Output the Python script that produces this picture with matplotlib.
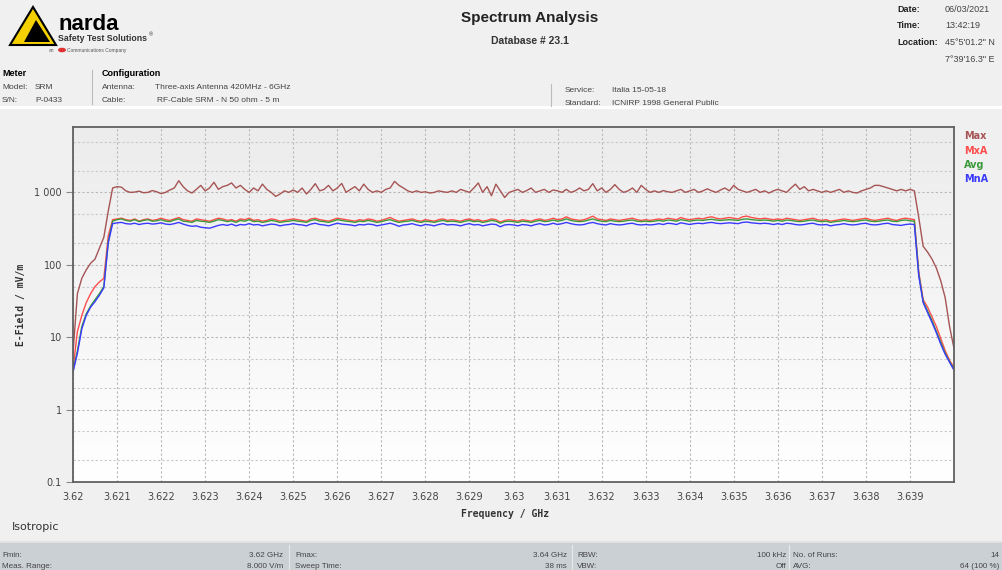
import numpy as np
import matplotlib
matplotlib.use("Agg")
import matplotlib.pyplot as plt
from matplotlib.patches import Polygon, Rectangle, Circle
from matplotlib.ticker import FixedLocator, FixedFormatter, NullFormatter

# sweep 3.62 - 3.64 GHz, 201 points
freq = np.linspace(3.62, 3.64, 201)

max_vals = [
    6, 40, 65, 85, 105, 120, 170, 240, 550, 1150,
    1200, 1180, 1050, 1000, 1010, 1040, 990, 1000, 1060, 1020,
    960, 1000, 1080, 1150, 1450, 1200, 1050, 980, 1100, 1250,
    1050, 1150, 1380, 1100, 1200, 1250, 1350, 1150, 1250, 1100,
    1000, 1150, 1050, 1300, 1100, 1000, 880, 950, 1050, 1000,
    1080, 1000, 1150, 950, 1100, 1320, 1050, 1100, 1250, 1050,
    1150, 1330, 1000, 1100, 1200, 1050, 1300, 1100, 1000, 1050,
    1000, 1100, 1150, 1420, 1250, 1150, 1050, 1000, 1050, 1000,
    1020, 980, 1000, 1050, 1020, 1000, 1050, 1000, 1100, 1050,
    1000, 1150, 1350, 1000, 1200, 900, 1300, 1050, 850, 1000,
    1050, 1100, 1000, 1060, 1150, 1000, 1050, 1100, 1000, 1080,
    1050, 1000, 1100, 1000, 1050, 1150, 1050, 1100, 1320, 1050,
    1150, 1000, 1100, 1280, 1100, 1000, 1050, 1150, 1000, 1250,
    1100, 1000, 1050, 1000, 1060, 1020, 1000, 1050, 1100, 1000,
    1050, 1100, 1000, 1050, 1120, 1050, 1000, 1080, 1150, 1050,
    1250, 1100, 1050, 1000, 1050, 1100, 1000, 1050, 980, 1050,
    1100, 1050, 1000, 1150, 1300, 1100, 1200, 1050, 1100, 1050,
    1000, 1050, 1000, 1050, 1100, 1000, 1050, 1000, 980, 1050,
    1100, 1150, 1250, 1250, 1200, 1150, 1100, 1050, 1100, 1050,
    1100, 1050, 450, 180, 150, 120, 90, 60, 35, 14,
    7,
]

mxa_vals = [
    3.6, 12, 20, 30, 40, 50, 58, 65, 250, 420,
    430, 440, 420, 410, 430, 400, 420, 430, 410, 420,
    440, 420, 410, 430, 450, 420, 410, 400, 430, 420,
    410, 400, 420, 440, 430, 410, 420, 400, 430, 420,
    440, 410, 420, 400, 410, 430, 420, 400, 410, 420,
    430, 420, 410, 400, 430, 440, 420, 410, 400, 420,
    440, 430, 420, 410, 400, 420, 410, 430, 420, 400,
    410, 430, 450, 420, 400, 410, 420, 430, 410, 400,
    420, 410, 400, 420, 430, 410, 420, 410, 400, 420,
    430, 410, 420, 400, 410, 430, 420, 390, 410, 420,
    410, 400, 420, 410, 400, 420, 430, 410, 420, 440,
    420, 430, 460, 430, 420, 410, 420, 440, 470, 430,
    420, 410, 430, 420, 410, 420, 430, 440, 420, 410,
    420, 410, 420, 430, 420, 440, 430, 420, 450, 430,
    420, 430, 440, 430, 450, 460, 440, 430, 440, 450,
    440, 430, 460, 470, 450, 440, 430, 440, 430, 420,
    430, 420, 440, 430, 420, 410, 420, 430, 440, 420,
    410, 420, 400, 410, 420, 430, 420, 410, 420, 430,
    440, 420, 410, 420, 430, 440, 420, 410, 430, 440,
    430, 420, 80, 33, 26, 19, 14, 9.5, 6.5, 4.8,
    3.8,
]

avg_vals = [
    3.4, 6.5, 14, 21, 27, 33, 40, 50, 210, 400,
    420, 430, 410, 400, 420, 395, 410, 420, 400, 405,
    420, 400, 395, 415, 430, 400, 395, 385, 410, 400,
    395, 385, 400, 420, 410, 395, 405, 385, 410, 400,
    420, 395, 400, 385, 395, 410, 400, 385, 395, 400,
    410, 400, 395, 385, 410, 420, 400, 395, 385, 400,
    420, 410, 400, 395, 385, 400, 395, 410, 400, 385,
    395, 410, 420, 400, 385, 395, 400, 410, 395, 385,
    400, 395, 385, 400, 410, 395, 400, 395, 385, 400,
    410, 395, 400, 385, 395, 410, 400, 375, 395, 400,
    395, 385, 400, 395, 385, 400, 410, 395, 400, 415,
    400, 410, 430, 410, 400, 395, 400, 415, 430, 410,
    400, 395, 410, 400, 395, 400, 410, 415, 400, 395,
    400, 395, 400, 410, 400, 415, 410, 400, 420, 410,
    400, 410, 415, 410, 420, 425, 415, 410, 415, 420,
    415, 410, 425, 430, 420, 415, 410, 415, 410, 400,
    410, 400, 415, 410, 400, 395, 400, 410, 415, 400,
    395, 400, 385, 395, 400, 410, 400, 395, 400, 410,
    415, 400, 395, 400, 410, 415, 400, 395, 410, 415,
    405, 400, 75, 31, 23, 17, 12, 8.5, 6, 4.6,
    3.6,
]

mna_vals = [
    3.3, 6, 13, 20, 26, 31, 38, 48, 200, 370,
    380, 385, 370, 365, 375, 360, 370, 375, 365, 370,
    380, 365, 360, 370, 385, 365, 350, 340, 345, 330,
    325, 320, 335, 350, 360, 350, 365, 345, 360, 355,
    370, 355, 360, 345, 355, 365, 360, 345, 355, 360,
    370, 360, 355, 345, 365, 375, 360, 355, 345, 360,
    375, 365, 360, 355, 345, 360, 355, 365, 360, 345,
    355, 365, 375, 360, 340, 355, 360, 370, 355, 345,
    360, 355, 345, 360, 370, 355, 360, 355, 345, 360,
    370, 355, 360, 345, 355, 365, 360, 335, 355, 360,
    355, 345, 360, 355, 345, 360, 370, 355, 360, 375,
    360, 370, 385, 370, 360, 355, 360, 375, 385, 370,
    360, 355, 370, 360, 355, 360, 370, 375, 360, 355,
    360, 355, 360, 370, 360, 375, 370, 360, 380, 370,
    360, 370, 375, 370, 380, 385, 375, 370, 375, 380,
    375, 370, 385, 390, 380, 375, 370, 375, 370, 360,
    370, 360, 375, 370, 360, 355, 360, 370, 375, 360,
    355, 360, 345, 355, 360, 370, 360, 355, 360, 370,
    375, 360, 355, 360, 370, 375, 360, 355, 350, 360,
    365, 360, 70, 30, 22, 16, 11.5, 8, 5.8, 4.5,
    3.5,
]

series_names = ["Max", "MxA", "Avg", "MnA"]
series_colors = ["#a65454", "#ff4d4d", "#3a9a3a", "#3a3aff"]

x_ticks = [3.62, 3.621, 3.622, 3.623, 3.624, 3.625, 3.626, 3.627, 3.628, 3.629,
           3.63, 3.631, 3.632, 3.633, 3.634, 3.635, 3.636, 3.637, 3.638, 3.639]
x_tick_labels = ["3.62", "3.621", "3.622", "3.623", "3.624", "3.625", "3.626",
                 "3.627", "3.628", "3.629", "3.63", "3.631", "3.632", "3.633",
                 "3.634", "3.635", "3.636", "3.637", "3.638", "3.639"]
y_ticks = [0.1, 1, 10, 100, 1000]
y_tick_labels = ["0.1", "1", "10", "100", "1 000"]

W, H = 1002, 570


def px(x, y):
    return x / W, 1 - y / H


fig = plt.figure(figsize=(W / 100, H / 100), dpi=100)
fig.patch.set_facecolor("#f0f0f0")

# header separator and bottom info band
fig.patches.append(Rectangle(px(0, 109), 1, 3 / H, transform=fig.transFigure,
                             facecolor="white", edgecolor="none"))
fig.patches.append(Rectangle((0, 0), 1, 27 / H, transform=fig.transFigure,
                             facecolor="#cbd0d5", edgecolor="none"))
fig.patches.append(Rectangle(px(0, 543), 1, 2 / H, transform=fig.transFigure,
                             facecolor="#e2e2e2", edgecolor="none"))

# logo
tri = Polygon([px(10, 45), px(33, 7), px(56, 45)], closed=True, transform=fig.transFigure,
              facecolor="#f5d000", edgecolor="black", linewidth=1.5)
inner = Polygon([px(24, 42), px(36, 20), px(50, 42)], closed=True, transform=fig.transFigure,
                facecolor="black", edgecolor="none")
fig.patches.extend([tri, inner])
hf = ["Liberation Sans", "DejaVu Sans"]
fig.text(*px(58, 30), "narda", fontsize=16, fontweight="bold", family=hf, va="baseline")
fig.text(*px(58, 41), "Safety Test Solutions", fontsize=6.3, fontweight="bold",
         color="#333333", family=hf, va="baseline")
fig.text(*px(149, 36), "®", fontsize=4, color="#333333", family=hf, va="baseline")
fig.patches.append(Circle(px(62, 50), 4 / W, transform=fig.transFigure,
                          facecolor="#e03030", edgecolor="none"))
fig.text(*px(49, 52), "an", fontsize=3.5, color="#555555", family=hf, va="baseline")
fig.text(*px(67, 52), "Communications Company", fontsize=3.5, color="#555555",
         family=hf, va="baseline")

# title
fig.text(*px(530, 22), "Spectrum Analysis", fontsize=11, fontweight="bold",
         ha="center", va="baseline", family=hf, color="#222222")
fig.text(*px(530, 44), "Database # 23.1", fontsize=7.5, fontweight="bold",
         ha="center", va="baseline", family=hf, color="#333333")

# date block
for i, (k, v) in enumerate([("Date:", "06/03/2021"), ("Time:", "13:42:19"),
                            ("Location:", "45°5'01.2\" N")]):
    yy = 12 + i * 16.5
    fig.text(*px(897, yy), k, fontsize=6.5, fontweight="bold", family=hf,
             va="baseline", color="#222222")
    fig.text(*px(945, yy), v, fontsize=6.5, family=hf, va="baseline", color="#444444")
fig.text(*px(945, 62), "7°39'16.3\" E", fontsize=6.5, family=hf, va="baseline",
         color="#444444")

# meter / configuration block
fig.text(*px(2, 76), "Meter", fontsize=6.5, fontweight="bold", family=hf, va="baseline")
fig.text(*px(102, 76), "Configuration", fontsize=6.5, fontweight="bold", family=hf,
         va="baseline")
rows = [("Model:", "SRM", "Antenna:", "Three-axis Antenna 420MHz - 6GHz"),
        ("S/N:", "P-0433", "Cable:", "RF-Cable SRM - N 50 ohm - 5 m")]
for i, (a, b, c, d) in enumerate(rows):
    yy = 89 + i * 13
    fig.text(*px(2, yy), a, fontsize=6, family=hf, va="baseline", color="#444444")
    fig.text(*px(35, yy), b, fontsize=6, family=hf, va="baseline", color="#444444")
    fig.text(*px(102, yy), c, fontsize=6, family=hf, va="baseline", color="#444444")
    fig.text(*px(155 if i == 0 else 157, yy), d, fontsize=6, family=hf,
             va="baseline", color="#444444")
for i, (a, b) in enumerate([("Service:", "Italia 15-05-18"),
                            ("Standard:", "ICNIRP 1998 General Public")]):
    yy = 92 + i * 13
    fig.text(*px(565, yy), a, fontsize=6, family=hf, va="baseline", color="#444444")
    fig.text(*px(612, yy), b, fontsize=6, family=hf, va="baseline", color="#444444")
for xs, y0, y1 in [(92, 70, 104), (551, 84, 106)]:
    fig.add_artist(plt.Line2D([xs / W, xs / W], [1 - y0 / H, 1 - y1 / H],
                              color="#bbbbbb", linewidth=0.8))

# plot area
pos = [73 / W, 1 - 482 / H, 881 / W, 355 / H]
bg = fig.add_axes(pos, zorder=0)
grad = np.linspace(0, 1, 256).reshape(-1, 1)
bg.imshow(grad, aspect="auto", cmap=matplotlib.colors.LinearSegmentedColormap.from_list(
    "g", ["#ececec", "#ffffff"]), extent=[0, 1, 0, 1], origin="upper")
bg.axis("off")

ax = fig.add_axes(pos, zorder=1)
ax.set_facecolor("none")
for name, vals, col in zip(series_names, [max_vals, mxa_vals, avg_vals, mna_vals],
                           series_colors):
    ax.plot(freq, vals, color=col, linewidth=1.0, label=name)

ax.set_yscale("log")
ax.set_xlim(3.62, 3.64)
ax.set_ylim(0.1, 8000)
ax.yaxis.set_major_locator(FixedLocator(y_ticks))
ax.yaxis.set_major_formatter(FixedFormatter(y_tick_labels))
ax.yaxis.set_minor_locator(matplotlib.ticker.LogLocator(base=10, subs=(2, 5)))
ax.yaxis.set_minor_formatter(NullFormatter())
ax.xaxis.set_major_locator(FixedLocator(x_ticks))
ax.xaxis.set_major_formatter(FixedFormatter(x_tick_labels))
ax.grid(True, which="major", color="#b8b8b8", linestyle=(0, (2, 2)), linewidth=0.8)
ax.grid(True, which="minor", axis="y", color="#c8c8c8", linestyle=(0, (2, 2)),
        linewidth=0.8)
ax.tick_params(axis="y", which="major", length=5, color="#888888", labelsize=7,
               labelcolor="#444444", pad=3)
ax.tick_params(axis="y", which="minor", length=0)
ax.tick_params(axis="x", length=0, labelsize=7, labelcolor="#444444", pad=7)
for s in ax.spines.values():
    s.set_color("#606060")
    s.set_linewidth(1.3)
for lbl in ax.get_yticklabels() + ax.get_xticklabels():
    lbl.set_family("DejaVu Sans")

ax.set_ylabel("E-Field / mV/m", fontsize=7, fontweight="bold", family="DejaVu Sans Mono",
              color="#333333", labelpad=6)
fig.text(*px(505, 517), "Frequency / GHz", fontsize=7, fontweight="bold",
         family="DejaVu Sans Mono", ha="center", va="baseline", color="#333333")

# legend as coloured labels
for i, (name, col) in enumerate(zip(series_names, series_colors)):
    fig.text(*px(964, 139 + i * 14.5), name, fontsize=7, fontweight="bold",
             family="DejaVu Sans", color=col, va="baseline")

fig.text(*px(12, 530), "Isotropic", fontsize=8, family="DejaVu Sans", va="baseline",
         color="#333333")

# bottom info panel
info = [
    [("Fmin:", 2, "l"), ("3.62 GHz", 283, "r"), ("Fmax:", 295, "l"), ("3.64 GHz", 567, "r"),
     ("RBW:", 577, "l"), ("100 kHz", 786, "r"), ("No. of Runs:", 793, "l"), ("14", 999, "r")],
    [("Meas. Range:", 2, "l"), ("8.000 V/m", 283, "r"), ("Sweep Time:", 295, "l"),
     ("38 ms", 567, "r"), ("VBW:", 577, "l"), ("Off", 786, "r"), ("AVG:", 793, "l"),
     ("64 (100 %)", 999, "r")],
]
for r, row in enumerate(info):
    yy = 557 + r * 11.5
    for t, xx, al in row:
        fig.text(*px(xx, yy), t, fontsize=5.8, family=hf, va="baseline", color="#444444",
                 ha="left" if al == "l" else "right")
for xs in [289, 572, 789]:
    fig.add_artist(plt.Line2D([xs / W, xs / W], [0, 25 / H], color="#e8e8e8",
                              linewidth=0.8))

fig.savefig("out.png", dpi=100, facecolor=fig.get_facecolor())
